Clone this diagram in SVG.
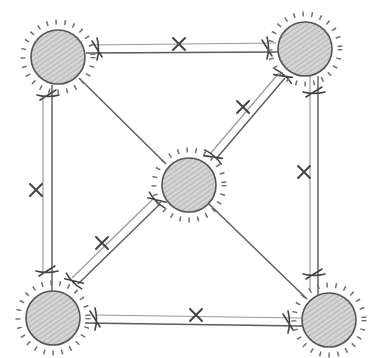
<svg xmlns="http://www.w3.org/2000/svg" width="370" height="358" viewBox="0 0 370 358">
  <defs>
    <pattern id="hatch" patternUnits="userSpaceOnUse" width="4" height="4" patternTransform="rotate(55)">
      <rect width="4" height="4" fill="#d4d4d4"/>
      <line x1="0" y1="0" x2="0" y2="4" stroke="#a0a0a0" stroke-width="1.2"/>
    </pattern>
    <g id="tick">
      <path d="M0,-11 Q3,0 0,11 M-5,-8 L5,8" fill="none" stroke="#444" stroke-width="1.6" stroke-linecap="round"/>
    </g>
    <g id="xmark">
      <path d="M-6,-6 L6,6 M-6,6 L6,-6" fill="none" stroke="#444" stroke-width="2" stroke-linecap="round"/>
    </g>
  </defs>
  <style>
    .place { fill: url(#hatch); stroke: #555; stroke-width: 1.6; }
    .rays { fill: none; stroke: #6e6e6e; stroke-width: 5; stroke-dasharray: 1.5 7.5; }
    .dark { stroke: #5a5a5a; stroke-width: 1.4; fill: none; }
    .light { stroke: #9a9a9a; stroke-width: 1.2; fill: none; }
  </style>
  <rect width="370" height="358" fill="#ffffff"/>

  <g id="connectors">
    <!-- top edge -->
    <line class="light" x1="90" y1="45" x2="276" y2="43"/>
    <line class="dark" x1="86" y1="53" x2="278" y2="52"/>
    <use href="#tick" transform="translate(97,49)"/>
    <use href="#tick" transform="translate(267,48)"/>
    <use href="#xmark" transform="translate(179,44)"/>
    <!-- left edge -->
    <line class="light" x1="43" y1="98" x2="43" y2="272"/>
    <line class="dark" x1="52" y1="85" x2="52" y2="291"/>
    <use href="#tick" transform="translate(48,95) rotate(90)"/>
    <use href="#tick" transform="translate(47,271) rotate(90)"/>
    <use href="#xmark" transform="translate(36,190)"/>
    <!-- right edge -->
    <line class="light" x1="310" y1="76" x2="310" y2="290"/>
    <line class="dark" x1="318" y1="76" x2="318" y2="296"/>
    <use href="#tick" transform="translate(314,92) rotate(90)"/>
    <use href="#tick" transform="translate(314,274) rotate(90)"/>
    <use href="#xmark" transform="translate(304,172)"/>
    <!-- bottom edge -->
    <line class="light" x1="95" y1="315" x2="302" y2="318"/>
    <line class="dark" x1="85" y1="323" x2="302" y2="326"/>
    <use href="#tick" transform="translate(95,319)"/>
    <use href="#tick" transform="translate(288,322)"/>
    <use href="#xmark" transform="translate(196,315)"/>
    <!-- TR to centre (double) -->
    <line class="light" x1="210" y1="154" x2="279" y2="73"/>
    <line class="dark" x1="216" y1="159" x2="285" y2="78"/>
    <use href="#tick" transform="translate(213,157) rotate(-49.5)"/>
    <use href="#tick" transform="translate(283,76) rotate(-49.5)"/>
    <use href="#xmark" transform="translate(243,107)"/>
    <!-- centre to BL (double) -->
    <line class="light" x1="154" y1="198" x2="72" y2="278"/>
    <line class="dark" x1="160" y1="204" x2="78" y2="284"/>
    <use href="#tick" transform="translate(157,200) rotate(135.6)"/>
    <use href="#tick" transform="translate(74,281) rotate(135.6)"/>
    <use href="#xmark" transform="translate(102,243)"/>
    <!-- single lines -->
    <line class="dark" x1="79" y1="78" x2="166" y2="164"/>
    <line class="dark" x1="209" y1="204" x2="307" y2="299"/>
  </g>

  <g id="node-tl">
    <circle class="rays" cx="58" cy="57" r="35"/>
    <circle class="place" cx="58" cy="57" r="27"/>
  </g>
  <g id="node-tr">
    <circle class="rays" cx="305" cy="49" r="35"/>
    <circle class="place" cx="305" cy="49" r="27"/>
  </g>
  <g id="node-c">
    <circle class="rays" cx="189" cy="185" r="35"/>
    <circle class="place" cx="189" cy="185" r="27"/>
  </g>
  <g id="node-bl">
    <circle class="rays" cx="53" cy="318" r="35"/>
    <circle class="place" cx="53" cy="318" r="27"/>
  </g>
  <g id="node-br">
    <circle class="rays" cx="329" cy="320" r="35"/>
    <circle class="place" cx="329" cy="320" r="27"/>
  </g>
</svg>
